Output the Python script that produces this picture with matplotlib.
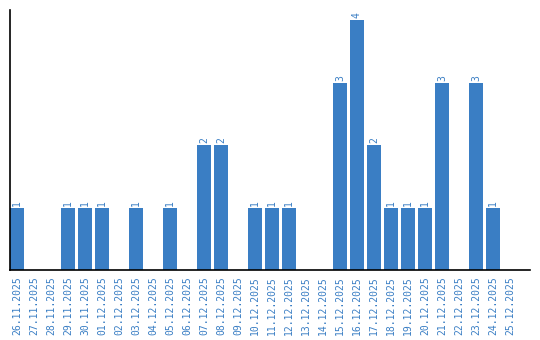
import matplotlib.pyplot as plt

dates = ["26.11.2025", "27.11.2025", "28.11.2025", "29.11.2025", "30.11.2025",
         "01.12.2025", "02.12.2025", "03.12.2025", "04.12.2025", "05.12.2025",
         "06.12.2025", "07.12.2025", "08.12.2025", "09.12.2025", "10.12.2025",
         "11.12.2025", "12.12.2025", "13.12.2025", "14.12.2025", "15.12.2025",
         "16.12.2025", "17.12.2025", "18.12.2025", "19.12.2025", "20.12.2025",
         "21.12.2025", "22.12.2025", "23.12.2025", "24.12.2025", "25.12.2025"]
counts = [1, 0, 0, 1, 1, 1, 0, 1, 0, 1,
          0, 2, 2, 0, 1, 1, 1, 0, 0, 3,
          4, 2, 1, 1, 1, 3, 0, 3, 1, 0]

blue = "#3a7ec4"
bw = 14 / 17
plt.rcParams["font.family"] = "DejaVu Sans Mono"

fig = plt.figure(figsize=(5.4, 3.4), dpi=100)
ax = fig.add_axes([10 / 540, 70 / 340, 520 / 540, 260 / 340])

x = list(range(len(dates)))
bars = ax.bar(x, counts, width=bw, color=blue)

# labels only on non-empty bars
for xi, c in zip(x, counts):
    if c > 0:
        ax.text(xi, c + 0.03, str(c), rotation=90, ha="center", va="bottom",
                fontsize=7, color=blue)

ax.set_xlim(-bw / 2, 30.18)
ax.set_ylim(0, 4.16)
ax.set_xticks(x)
ax.set_xticklabels(dates, rotation=90, fontsize=7, color=blue)
ax.tick_params(axis="x", length=0, pad=4.5)
ax.set_yticks([])
for s in ["top", "right"]:
    ax.spines[s].set_visible(False)
ax.spines["left"].set_linewidth(1.2)
ax.spines["bottom"].set_linewidth(1.2)

fig.savefig("out.png", dpi=100)
